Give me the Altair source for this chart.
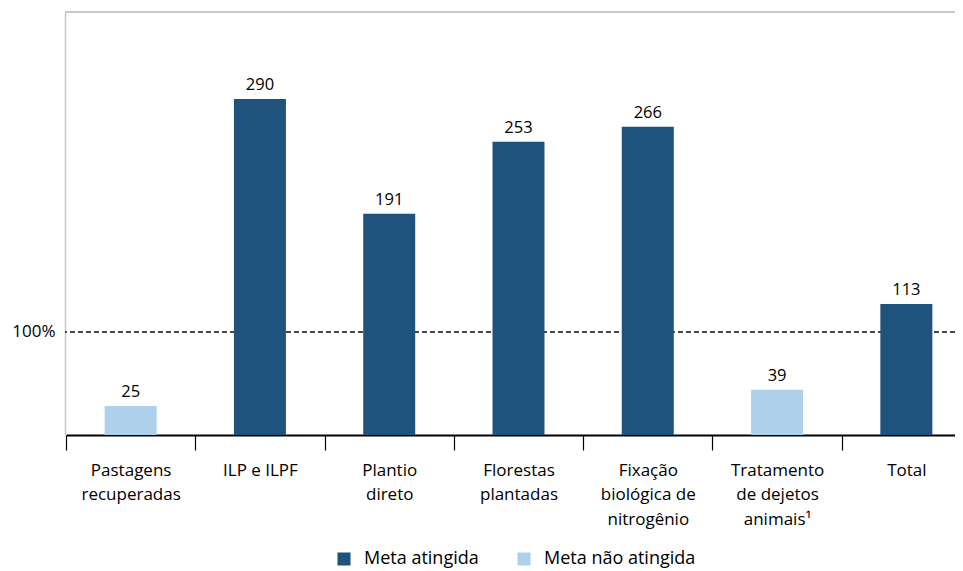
import altair as alt
import pandas as pd

categorias = [
    "Pastagens\nrecuperadas",
    "ILP e ILPF",
    "Plantio\ndireto",
    "Florestas\nplantadas",
    "Fixação\nbiológica de\nnitrogênio",
    "Tratamento\nde dejetos\nanimais¹",
    "Total",
]
valores = [25, 290, 191, 253, 266, 39, 113]
situacao = [
    "Meta não atingida",
    "Meta atingida",
    "Meta atingida",
    "Meta atingida",
    "Meta atingida",
    "Meta não atingida",
    "Meta atingida",
]
legenda = ["Meta atingida", "Meta não atingida"]
cores = ["#1f527c", "#aed0ea"]
linha_meta = 89
rotulo_meta = "100%"
y_max = 365

df = pd.DataFrame({"categoria": categorias, "valor": valores, "situacao": situacao})

FONT = "Open Sans"

x_enc = alt.X(
    "categoria:N",
    sort=categorias,
    title=None,
    scale=alt.Scale(range=[1, 906], paddingInner=0, paddingOuter=0),
    axis=alt.Axis(
        labelAngle=0,
        labelExpr="split(datum.label, '\\n')",
        tickBand="extent",
        domainColor="black",
        domainWidth=2,
        tickColor="black",
        tickWidth=1.2,
        tickSize=15,
        labelPadding=12,
        labelFontSize=17,
        labelLineHeight=24.5,
        labelBaseline="top",
        labelColor="black",
        labelFont=FONT,
        grid=False,
    ),
)

y_enc = alt.Y(
    "valor:Q",
    title=None,
    scale=alt.Scale(domain=[0, y_max], nice=False),
    axis=alt.Axis(
        values=[linha_meta],
        labelExpr="'" + rotulo_meta + "'",
        ticks=False,
        grid=False,
        domainColor="#c8c8c8",
        domainWidth=1.5,
        labelFontSize=17,
        labelFont=FONT,
        labelPadding=10,
        labelColor="black",
    ),
)

base = alt.Chart(df)

bars = base.mark_bar(width=52).encode(
    x=x_enc,
    y=y_enc,
    color=alt.Color(
        "situacao:N",
        scale=alt.Scale(domain=legenda, range=cores),
        legend=alt.Legend(
            title=None,
            orient="none",
            legendX=270,
            legendY=538,
            direction="horizontal",
            symbolType="square",
            symbolSize=170,
            symbolStrokeWidth=0,
            labelFontSize=18,
            labelFont=FONT,
            labelColor="black",
            columnPadding=36,
            labelOffset=11,
        ),
    ),
)

text = base.mark_text(
    dy=-9, baseline="alphabetic", fontSize=16.5, font=FONT, color="black"
).encode(x=alt.X("categoria:N", sort=categorias), y="valor:Q", text="valor:Q")

meta = alt.Chart(df).mark_rule(
    strokeDash=[5, 3], color="#444444", strokeWidth=1
).encode(y=alt.Y(datum=linha_meta))

topo = alt.Chart(df).mark_rule(color="#c8c8c8", strokeWidth=1.5).encode(
    y=alt.Y(datum=y_max)
)

chart = (
    alt.layer(topo, meta, bars, text)
    .properties(
        width=890,
        height=423,
        autosize=alt.AutoSizeParams(type="none"),
        padding={"left": 57, "top": 4, "right": 0, "bottom": 136},
    )
    .configure_view(stroke=None)
)

chart.save("out.html", embed_options={"renderer": "svg", "actions": False})
